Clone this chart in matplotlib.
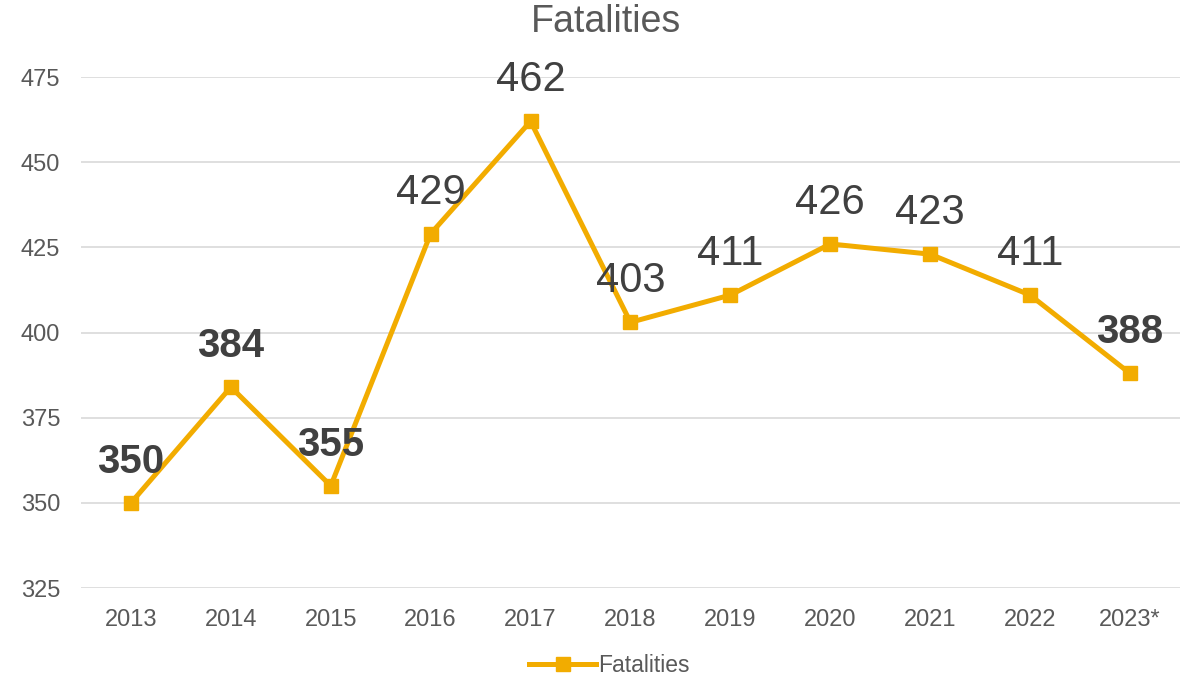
import numpy as np
import matplotlib.pyplot as plt

plt.rcParams['font.family'] = ['Liberation Sans', 'DejaVu Sans']

years = ['2013', '2014', '2015', '2016', '2017', '2018', '2019', '2020', '2021', '2022', '2023*']
fatalities = [350, 384, 355, 429, 462, 403, 411, 426, 423, 411, 388]
bold_labels = [True, True, True, False, False, False, False, False, False, False, True]

line_color = '#F2AC00'
fig = plt.figure(figsize=(11.88, 6.78), dpi=100)
ax = fig.add_axes([0.0682, 0.1327, 0.925, 0.7537])

x = np.arange(len(years))
ax.plot(x, fatalities, color=line_color, lw=3.6, marker='s', markersize=10.5,
        label='Fatalities', solid_joinstyle='miter')

for xi, v, b in zip(x, fatalities, bold_labels):
    ax.annotate(str(v), (xi, v), xytext=(0, 29.5), textcoords='offset points',
                ha='center', va='center', fontsize=30 if not b else 29,
                fontweight='bold' if b else 'normal', color='#404040')

ax.set_xlim(-0.5, len(years) - 0.5)
ax.set_ylim(325, 475)
ax.set_yticks(np.arange(325, 476, 25))
ax.set_xticks(x)
ax.set_xticklabels(years)
ax.grid(axis='y', color='#D9D9D9', lw=1.2)
ax.set_axisbelow(True)
for s in ax.spines.values():
    s.set_visible(False)
ax.tick_params(length=0, labelsize=17, colors='#595959')
ax.tick_params(axis='x', pad=15)
ax.tick_params(axis='y', pad=15)

fig.text(0.51, 0.967, 'Fatalities', fontsize=27, color='#595959', ha='center', va='center')

fig.legend(loc='center', bbox_to_anchor=(0.513, 0.018), frameon=False,
           fontsize=16.5, labelcolor='#595959', handlelength=2.9, handletextpad=0.1)

fig.savefig('out.png', dpi=100)
